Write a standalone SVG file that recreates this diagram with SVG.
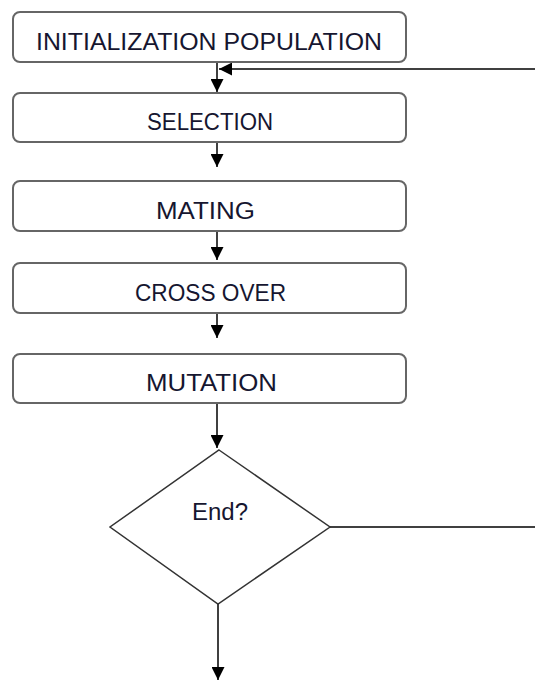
<svg xmlns="http://www.w3.org/2000/svg" width="535" height="682" viewBox="0 0 535 682">
<defs>
<marker id="ah" markerWidth="13" markerHeight="13" refX="13" refY="6.5" orient="auto" markerUnits="userSpaceOnUse">
<path d="M0,0 L13,6.5 L0,13 Z" fill="#000"/>
</marker>
<style>
.box{fill:#fff;stroke:#666;stroke-width:2}
.dia{fill:#fff;stroke:#333;stroke-width:1.5}
.lbl{font-family:"Liberation Sans",Arial,sans-serif;font-size:23px;fill:#161630}
.ln{stroke:#000;stroke-width:1.5;fill:none}
.arr{stroke:#000;stroke-width:1.5;fill:none;marker-end:url(#ah)}
</style>
</defs>
<rect width="535" height="682" fill="#fff"/>
<g id="connectors">
<line class="arr" x1="217" y1="62" x2="217" y2="92"/>
<line class="arr" x1="535" y1="69" x2="219" y2="69"/>
<line class="arr" x1="217" y1="142" x2="217" y2="167"/>
<line class="arr" x1="217" y1="231" x2="217" y2="260"/>
<line class="arr" x1="217" y1="313" x2="217" y2="338"/>
<line class="arr" x1="217" y1="403" x2="217" y2="448"/>
<line class="ln" x1="330" y1="527" x2="535" y2="527"/>
<line class="arr" x1="218" y1="604" x2="218" y2="680"/>
</g>
<g id="init">
<rect class="box" x="13" y="12" width="393" height="50" rx="7"/>
<text class="lbl" x="36" y="49.5" textLength="346" lengthAdjust="spacingAndGlyphs">INITIALIZATION POPULATION</text>
</g>
<g id="selection">
<rect class="box" x="13" y="93" width="393" height="49" rx="7"/>
<text class="lbl" x="147" y="130" textLength="126" lengthAdjust="spacingAndGlyphs">SELECTION</text>
</g>
<g id="mating">
<rect class="box" x="13" y="181" width="393" height="50" rx="7"/>
<text class="lbl" x="156" y="219" textLength="99" lengthAdjust="spacingAndGlyphs">MATING</text>
</g>
<g id="crossover">
<rect class="box" x="13" y="263" width="393" height="50" rx="7"/>
<text class="lbl" x="135" y="300.5" textLength="151" lengthAdjust="spacingAndGlyphs">CROSS OVER</text>
</g>
<g id="mutation">
<rect class="box" x="13" y="354" width="393" height="49" rx="7"/>
<text class="lbl" x="146" y="391" textLength="131" lengthAdjust="spacingAndGlyphs">MUTATION</text>
</g>
<g id="end">
<polygon class="dia" points="219,450 330,527 218,604 110,527"/>
<text class="lbl" x="192" y="520" textLength="56" lengthAdjust="spacingAndGlyphs">End?</text>
</g>
</svg>
